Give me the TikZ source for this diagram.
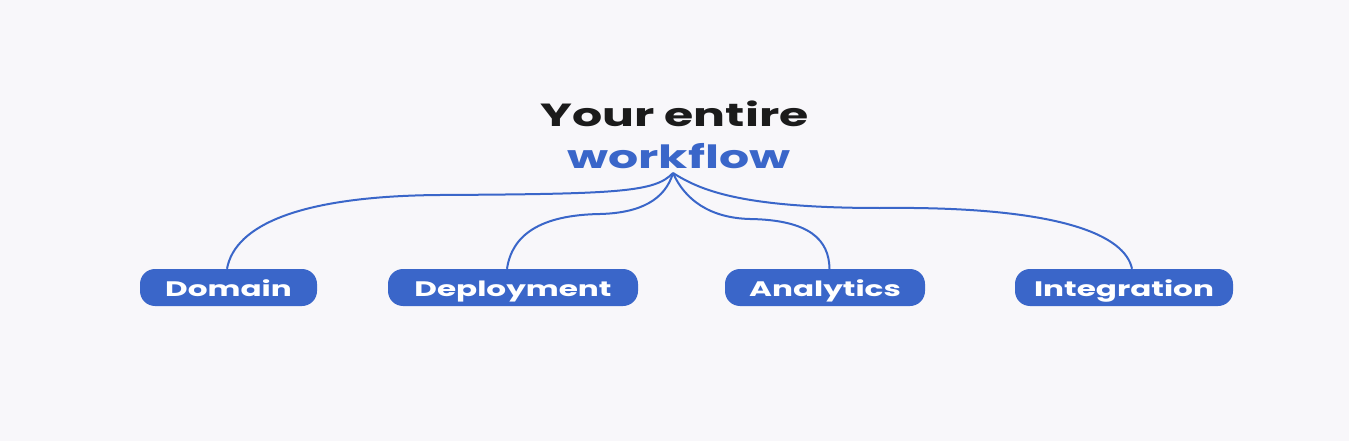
\documentclass[tikz,border=0pt]{standalone}
\usepackage{fontspec}
\newfontfamily\popw[FakeStretch=1.48]{Poppins}
\definecolor{bg}{HTML}{F8F7FA}
\definecolor{accent}{HTML}{3A66C9}
\definecolor{ink}{HTML}{1B1B1B}
\begin{document}
\begin{tikzpicture}[x=1pt,y=-1pt,
  pill/.style={fill=accent, rounded corners=15pt, minimum height=37pt, text=white,
    font=\popw\bfseries\fontsize{21}{21}\selectfont, inner sep=0pt, anchor=center,
    text height=17pt, text depth=0pt},
  title/.style={font=\popw\bfseries\fontsize{32}{32}\selectfont, inner sep=0pt, anchor=base},
  link/.style={draw=accent, line width=2pt}]
\fill[bg] (0,0) rectangle (1349,441);
\useasboundingbox (0,0) rectangle (1349,441);
\node[title, text=ink] (t1) at (674.5,127) {Your entire};
\node[title, text=accent] (t2) at (679,168) {workflow};
\coordinate (hub) at (673,173);
\node[pill, minimum width=177pt] (d) at (228.5,287.5) {Domain};
\node[pill, minimum width=250pt] (dp) at (513,287.5) {Deployment};
\node[pill, minimum width=200pt] (an) at (825,287.5) {Analytics};
\node[pill, minimum width=218pt] (in) at (1124,287.5) {Integration};
\draw[link] (hub) .. controls (655,192) and (620,194) .. (440,195)
  .. controls (300,196) and (235,225) .. ([xshift=-1.5pt]d.north);
\draw[link] (hub) .. controls (665,200) and (640,213) .. (600,214)
  .. controls (540,215) and (512,235) .. ([xshift=-6pt]dp.north);
\draw[link] (hub) .. controls (685,200) and (710,218) .. (750,219)
  .. controls (810,220) and (829,240) .. ([xshift=4.5pt]an.north);
\draw[link] (hub) .. controls (700,190) and (740,208) .. (880,208)
  .. controls (1060,206) and (1125,235) .. ([xshift=8pt]in.north);
\end{tikzpicture}
\end{document}
